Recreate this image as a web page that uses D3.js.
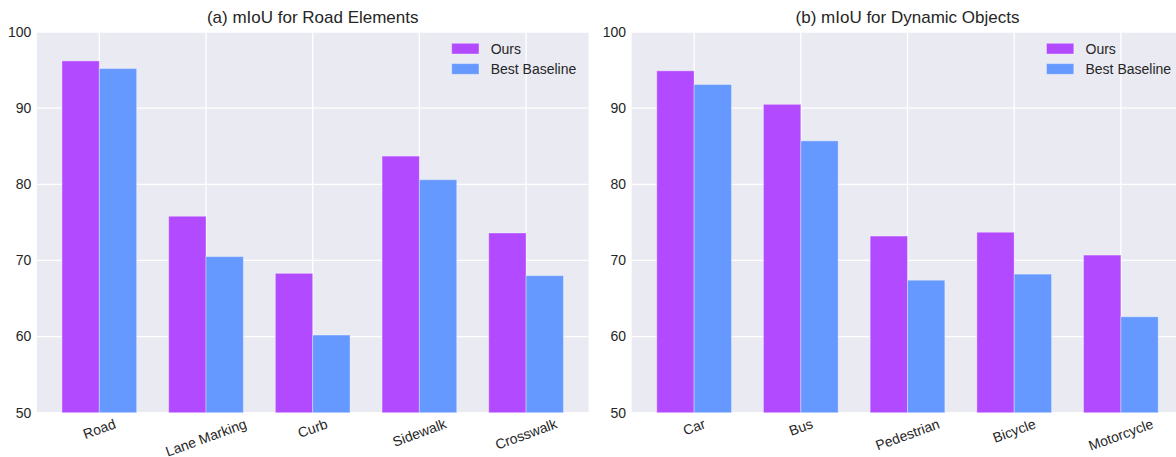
<!DOCTYPE html>
<html>
<head>
<meta charset="utf-8">
<script src="https://cdn.jsdelivr.net/npm/d3@7"></script>
<style>
  html, body { margin: 0; padding: 0; background: #fff; }
  svg { display: block; }
  text { font-family: "Liberation Sans", Arial, sans-serif; fill: #262626; }
</style>
</head>
<body>
<svg id="chart" width="1176" height="457"></svg>
<script>
// Panel (a): road elements
const roadCategories = ["Road", "Lane Marking", "Curb", "Sidewalk", "Crosswalk"];
const roadOurs = [96.2, 75.8, 68.3, 83.7, 73.6];
const roadBaseline = [95.2, 70.5, 60.2, 80.6, 68.0];

// Panel (b): dynamic objects
const dynCategories = ["Car", "Bus", "Pedestrian", "Bicycle", "Motorcycle"];
const dynOurs = [94.9, 90.5, 73.2, 73.7, 70.7];
const dynBaseline = [93.1, 85.7, 67.4, 68.2, 62.6];

const yTicks = [50, 60, 70, 80, 90, 100];
const seriesNames = ["Ours", "Best Baseline"];
const titles = ["(a) mIoU for Road Elements", "(b) mIoU for Dynamic Objects"];

const colors = ["#B24BFF", "#6699FF"];
const bg = "#EAEAF2";
const barW = 0.35;
const tickFont = 14;

const svg = d3.select("#chart");

function drawPanel(left, right, title, cats, ours, base) {
  const top = 32, bottom = 412.7;
  const n = cats.length;
  const lo = -barW, hi = (n - 1) + barW;
  const m = (hi - lo) * 0.05;
  const x = d3.scaleLinear().domain([lo - m, hi + m]).range([left, right]);
  const y = d3.scaleLinear().domain([50, 100]).range([bottom, top]);

  const g = svg.append("g");

  g.append("rect")
    .attr("x", left).attr("y", top)
    .attr("width", right - left).attr("height", bottom - top)
    .attr("fill", bg);

  // grid
  g.selectAll("line.hg").data(yTicks).join("line")
    .attr("x1", left).attr("x2", right)
    .attr("y1", d => y(d)).attr("y2", d => y(d))
    .attr("stroke", "#fff").attr("stroke-width", 1.3);
  g.selectAll("line.vg").data(cats.map((c, i) => i)).join("line")
    .attr("x1", d => x(d)).attr("x2", d => x(d))
    .attr("y1", top).attr("y2", bottom)
    .attr("stroke", "#fff").attr("stroke-width", 1.3);

  // bars
  const series = [ours, base];
  series.forEach((vals, s) => {
    g.selectAll(null).data(vals).join("rect")
      .attr("x", (d, i) => x(i - barW + s * barW))
      .attr("width", (d, i) => x(i + s * barW) - x(i - barW + s * barW))
      .attr("y", d => y(d))
      .attr("height", d => y(50) - y(d))
      .attr("fill", colors[s])
      .attr("stroke", "rgba(255,255,255,0.35)")
      .attr("stroke-width", 1);
  });

  // y tick labels
  g.selectAll("text.yt").data(yTicks).join("text")
    .attr("x", left - 5.6).attr("y", d => y(d))
    .attr("dy", "0.35em")
    .attr("text-anchor", "end")
    .attr("font-size", tickFont)
    .text(d => d);

  // x tick labels, rotated 20 degrees and centred under each group
  g.selectAll("text.xt").data(cats).join("text")
    .attr("text-anchor", "middle")
    .attr("dy", "0.35em")
    .attr("font-size", tickFont)
    .text(d => d)
    .each(function (d, i) {
      const w = this.getComputedTextLength();
      const h = tickFont * 1.05;
      const a = 20 * Math.PI / 180;
      const H = w * Math.sin(a) + h * Math.cos(a);
      const cy = bottom + 3.5 + H / 2;
      d3.select(this).attr("transform", `translate(${x(i)},${cy}) rotate(-20)`);
    });

  // title
  g.append("text")
    .attr("x", (left + right) / 2).attr("y", 23.3)
    .attr("text-anchor", "middle")
    .attr("font-size", 17)
    .text(title);

  // legend
  const lx = right - 136.8;
  seriesNames.forEach((name, s) => {
    const ly = 43.3 + s * 20.3;
    g.append("rect")
      .attr("x", lx).attr("y", ly)
      .attr("width", 27.3).attr("height", 10.7)
      .attr("fill", colors[s])
      .attr("stroke", "rgba(255,255,255,0.35)");
    g.append("text")
      .attr("x", lx + 39).attr("y", ly + 5.35)
      .attr("dy", "0.35em")
      .attr("font-size", tickFont)
      .text(name);
  });
}

drawPanel(36.9, 588.5, titles[0], roadCategories, roadOurs, roadBaseline);
drawPanel(631.7, 1183.3, titles[1], dynCategories, dynOurs, dynBaseline);
</script>
</body>
</html>
